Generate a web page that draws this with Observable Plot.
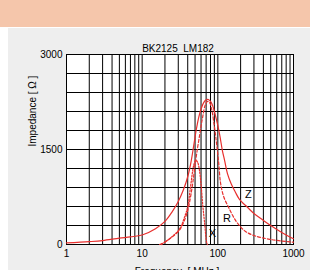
<!DOCTYPE html>
<html><head><meta charset="utf-8">
<script src="https://cdn.jsdelivr.net/npm/d3@7"></script>
<script src="https://cdn.jsdelivr.net/npm/@observablehq/plot@0.6"></script>
<style>
html,body{margin:0;padding:0;width:310px;height:270px;overflow:hidden;background:#fff;font-family:"Liberation Sans",Arial,sans-serif;}
#band{position:absolute;left:0;top:0;width:310px;height:27px;background:#f5c6ab;}
#panel{position:absolute;left:8px;top:28px;width:302px;height:242px;background:#eeeeee;}
#chart{position:absolute;left:0;top:0;}
#chart svg text{white-space:pre;}
</style></head><body>
<div id="band"></div><div id="panel"></div><div id="chart"></div>
<script>
const title = "BK2125  LM182";
const xLabel = "Frequency  [ MHz ]";
const yLabel = "Impedance [ Ω ]";

// Z (solid)
const zFreq = [1, 2, 3, 5, 7, 10, 15, 20, 25, 30, 35, 40, 44, 48, 52, 56, 60, 65, 70, 75, 80, 85, 90, 95, 100, 107, 115, 123, 134, 150, 170, 191, 250, 300, 400, 500, 700, 1000];
const zImp  = [25, 45, 62, 100, 120, 150, 250, 365, 520, 680, 860, 1070, 1290, 1560, 1820, 2010, 2140, 2240, 2285, 2290, 2260, 2200, 2100, 1990, 1880, 1700, 1480, 1326, 1120, 960, 830, 722, 580, 490, 380, 300, 190, 90];

// R (dashed)
const rFreq = [17, 20, 24, 28, 31, 35, 40, 44, 48, 51, 54, 57, 60, 63, 68, 73, 78, 83, 88, 95, 102, 109, 120, 139, 160, 183, 230, 300, 500, 1000];
const rImp  = [0, 40, 105, 170, 225, 340, 537, 780, 1080, 1326, 1530, 1700, 1870, 2010, 2200, 2260, 2240, 2130, 1950, 1650, 1326, 960, 750, 584, 440, 332, 210, 142, 79, 36];

// X (dotted)
const xFreq = [18, 24, 31, 36, 40, 44, 48, 51, 54, 57, 60, 63, 67, 71, 73];
const xImp  = [0, 110, 240, 420, 600, 950, 1250, 1330, 1300, 1180, 950, 640, 330, 40, 0];

const xTicks = [1, 10, 100, 1000];
const yTicks = [0, 1500, 3000];
const xGridVals = [2,3,4,5,6,7,8,9,10,20,30,40,50,60,70,80,90,100,200,300,400,500,600,700,800,900];
const yGridVals = [300,600,900,1200,1500,1800,2100,2400,2700];

const curveNames = ["Z", "R", "X"];
const curveLabelFreq = [254, 132, 85];
const curveLabelImp = [790, 411, 182];

const red = "#e8302e";
const rows = (f, v) => f.map((d, i) => ({f: d, v: v[i]}));
const labels = curveNames.map((n, i) => ({n, f: curveLabelFreq[i], v: curveLabelImp[i]}));

const chart = Plot.plot({
  width: 310, height: 290,
  marginLeft: 66, marginRight: 17, marginTop: 54, marginBottom: 46,
  style: {background: "transparent", fontFamily: "'Liberation Sans', Arial, sans-serif", fontSize: "10px", color: "#000", overflow: "visible"},
  x: {type: "log", domain: [1, 1000], ticks: xTicks, tickFormat: d => String(d), tickSize: 0, tickPadding: 5, label: null},
  y: {domain: [0, 3000], ticks: yTicks, tickFormat: d => String(d), tickSize: 0, tickPadding: 4, label: null},
  marks: [
    Plot.frame({fill: "white"}),
    Plot.ruleX(xGridVals, {stroke: "#000", strokeWidth: 1}),
    Plot.ruleY(yGridVals, {stroke: "#000", strokeWidth: 1}),
    Plot.frame({stroke: "#000", strokeWidth: 1}),
    Plot.line(rows(zFreq, zImp), {x: "f", y: "v", stroke: red, strokeWidth: 1.2, curve: "catmull-rom"}),
    Plot.line(rows(rFreq, rImp), {x: "f", y: "v", stroke: red, strokeWidth: 1.2, strokeDasharray: "3,2", curve: "catmull-rom"}),
    Plot.line(rows(xFreq, xImp), {x: "f", y: "v", stroke: red, strokeWidth: 1.2, strokeDasharray: "1.5,1.5", curve: "catmull-rom"}),
    Plot.text(labels, {x: "f", y: "v", text: "n", fontSize: 11, fill: "#000"}),
    Plot.text([title], {frameAnchor: "top", dy: -10, dx: -2, fontSize: 10, fill: "#000"}),
    Plot.text([yLabel], {frameAnchor: "left", rotate: -90, dx: -34, dy: -3, fontSize: 10, fill: "#000"}),
    Plot.text([xLabel], {frameAnchor: "bottom", lineAnchor: "top", dy: 23.5, dx: -3, fontSize: 10, fill: "#000"})
  ]
});
document.getElementById("chart").appendChild(chart);
</script>
</body></html>
